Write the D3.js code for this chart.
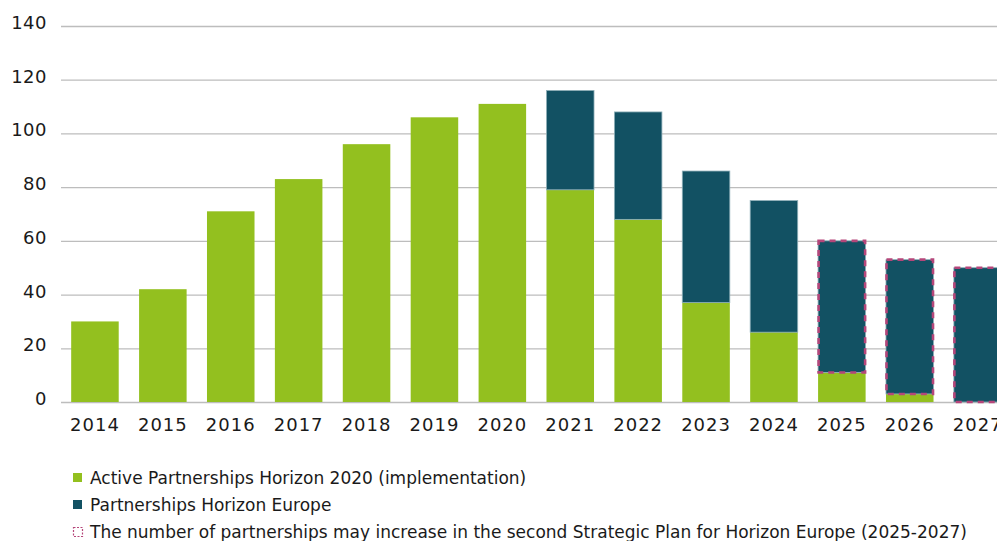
<!DOCTYPE html>
<html>
<head>
<meta charset="utf-8">
<script src="https://cdn.jsdelivr.net/npm/d3@7"></script>
<style>
  body { margin: 0; background: #fff; }
  svg { display: block; font-family: "DejaVu Sans", sans-serif; }
</style>
</head>
<body>
<div id="chart"></div>
<script>
// Years on the x axis
const years = ['2014', '2015', '2016', '2017', '2018', '2019', '2020',
  '2021', '2022', '2023', '2024', '2025', '2026', '2027'];

// Active partnerships under Horizon 2020 (implementation)
const h2020 = [30, 42, 71, 83, 96, 106, 111, 79, 68, 37, 26, 11, 3, 0];

// Partnerships under Horizon Europe
const horizonEurope = [0, 0, 0, 0, 0, 0, 0, 37, 40, 49, 49, 49, 50, 50];

// Years where the number may increase (second Strategic Plan)
const mayIncrease = ['2025', '2026', '2027'];

const yTicks = [0, 20, 40, 60, 80, 100, 120, 140];

const legendLabels = [
  'Active Partnerships Horizon 2020 (implementation)',
  'Partnerships Horizon Europe',
  'The number of partnerships may increase in the second Strategic Plan for Horizon Europe (2025-2027)'
];

const green = '#93c01f',
  teal = '#125163',
  dash = '#b5467a';

const width = 997,
  height = 541;

let margin = { top: 26, left: 61, bottom: 139 };
let plotH = height - margin.top - margin.bottom;

let svg = d3.select('#chart')
  .append('svg')
  .attr('width', width)
  .attr('height', height);

let data = years.map((y, i) => ({ year: y, a: h2020[i], b: horizonEurope[i] }));

let xScale = d3.scaleBand()
  .domain(years)
  .range([margin.left, margin.left + 14 * 67.9])
  .paddingInner(0.3)
  .paddingOuter(0.15);

let yScale = d3.scaleLinear()
  .domain([0, 140])
  .range([margin.top + plotH, margin.top]);

// gridlines
svg.append('g')
  .selectAll('line')
  .data(yTicks)
  .join('line')
  .attr('x1', margin.left)
  .attr('x2', width)
  .attr('y1', d => yScale(d) + 0.5)
  .attr('y2', d => yScale(d) + 0.5)
  .attr('stroke', '#bdbdbd')
  .attr('stroke-width', 1.3);

// y labels
svg.append('g')
  .selectAll('text')
  .data(yTicks)
  .join('text')
  .attr('x', 47)
  .attr('y', d => yScale(d) + 3)
  .attr('text-anchor', 'end')
  .attr('font-size', 18)
  .attr('letter-spacing', 0.5)
  .attr('fill', '#1a1a1a')
  .text(d => d);

// x labels
svg.append('g')
  .selectAll('text')
  .data(years)
  .join('text')
  .attr('x', d => xScale(d) + xScale.bandwidth() / 2)
  .attr('y', yScale(0) + 29)
  .attr('text-anchor', 'middle')
  .attr('font-size', 18)
  .attr('letter-spacing', 1)
  .attr('fill', '#1a1a1a')
  .text(d => d);

// Horizon 2020 bars
svg.append('g')
  .selectAll('rect')
  .data(data.filter(d => d.a > 0))
  .join('rect')
  .attr('x', d => xScale(d.year))
  .attr('width', xScale.bandwidth())
  .attr('y', d => yScale(d.a))
  .attr('height', d => yScale(0) - yScale(d.a))
  .attr('fill', green);

// Horizon Europe bars stacked on top
svg.append('g')
  .selectAll('rect')
  .data(data.filter(d => d.b > 0))
  .join('rect')
  .attr('x', d => xScale(d.year))
  .attr('width', xScale.bandwidth())
  .attr('y', d => yScale(d.a + d.b))
  .attr('height', d => yScale(d.a) - yScale(d.a + d.b))
  .attr('fill', teal)
  .attr('stroke', '#8fb0b9')
  .attr('stroke-width', 0.8);

// dashed outline for the years that may increase
svg.append('g')
  .selectAll('rect')
  .data(data.filter(d => mayIncrease.includes(d.year)))
  .join('rect')
  .attr('x', d => xScale(d.year) + 0.5)
  .attr('width', xScale.bandwidth() - 1)
  .attr('y', d => yScale(d.a + d.b))
  .attr('height', d => yScale(d.a) - yScale(d.a + d.b))
  .attr('fill', 'none')
  .attr('stroke', dash)
  .attr('stroke-width', 2.6)
  .attr('stroke-dasharray', '6,5');

// legend
let legend = svg.append('g')
  .attr('transform', 'translate(73, 478)');

let rows = legend.selectAll('g')
  .data(legendLabels)
  .join('g')
  .attr('transform', (d, i) => 'translate(0,' + i * 27 + ')');

rows.filter((d, i) => i < 2)
  .append('rect')
  .attr('x', 0)
  .attr('y', -5)
  .attr('width', 9)
  .attr('height', 9)
  .attr('fill', (d, i) => i === 0 ? green : teal);

rows.filter((d, i) => i === 2)
  .append('rect')
  .attr('x', 0.5)
  .attr('y', -4.5)
  .attr('width', 9)
  .attr('height', 9)
  .attr('fill', 'none')
  .attr('stroke', dash)
  .attr('stroke-width', 1.2)
  .attr('stroke-dasharray', '2,1.5');

rows.append('text')
  .attr('x', 17)
  .attr('y', 6)
  .attr('font-size', 17)
  .attr('fill', '#1a1a1a')
  .text(d => d);
</script>
</body>
</html>
